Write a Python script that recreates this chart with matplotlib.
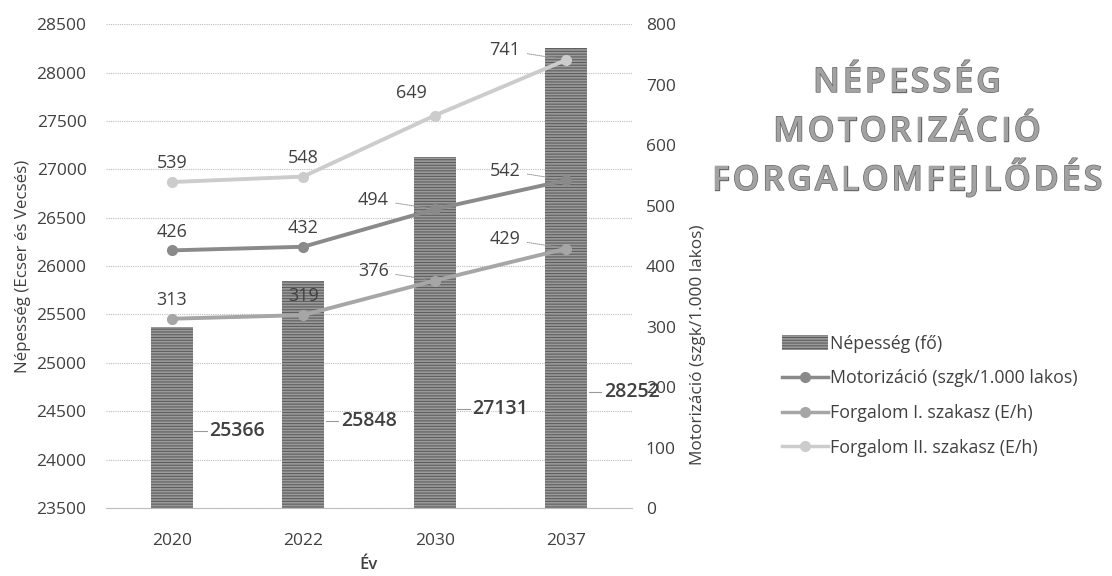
import matplotlib
matplotlib.use("Agg")
import matplotlib.pyplot as plt
import matplotlib.patheffects as pe
from matplotlib.lines import Line2D
from matplotlib.patches import Patch
from matplotlib.font_manager import FontProperties
import numpy as np

plt.rcParams['font.family'] = ['Open Sans', 'DejaVu Sans']
plt.rcParams['hatch.linewidth'] = 0.8

years = ["2020", "2022", "2030", "2037"]
nepesseg = [25366, 25848, 27131, 28252]
motorizacio = [426, 432, 494, 542]
forgalom1 = [313, 319, 376, 429]
forgalom2 = [539, 548, 649, 741]

series_names = ["Népesség (fő)", "Motorizáció (szgk/1.000 lakos)",
                "Forgalom I. szakasz (E/h)", "Forgalom II. szakasz (E/h)"]
title_lines = ["NÉPESSÉG", "MOTORIZÁCIÓ", "FORGALOMFEJLŐDÉS"]

line_colors = ["#8a8a8a", "#a6a6a6", "#cccccc"]
bar_color = "#9a9a9a"
bar_edge = "#5e5e5e"
text_color = "#404040"

W, H, DPI = 1112, 576, 100
fig = plt.figure(figsize=(W / DPI, H / DPI), dpi=DPI)
ax = fig.add_axes([0.0953, 0.118, 0.473, 0.840])
ax2 = ax.twinx()

x = np.arange(len(years))
ax.bar(x, nepesseg, width=0.32, color=bar_color, edgecolor=bar_edge,
       hatch="------", linewidth=0, zorder=2)
ax.set_ylim(23500, 28500)
ax.set_yticks(np.arange(23500, 28501, 500))
ax.set_xlim(-0.5, len(years) - 0.5)
ax.set_xticks(x)
ax.set_xticklabels(years)
ax.grid(axis="y", color="#bdbdbd", linestyle=(0, (1, 1)), linewidth=0.8, zorder=0)
ax.set_axisbelow(True)
for s in ["top", "left", "right"]:
    ax.spines[s].set_visible(False)
ax.spines["bottom"].set_color("#bdbdbd")
ax.tick_params(axis="both", length=0, labelsize=12.5, colors=text_color, pad=14)
ax.tick_params(axis="x", pad=18)
ax.set_xlabel("Év", fontsize=12, color=text_color, fontweight="semibold", labelpad=6)
ax.set_ylabel("Népesség (Ecser és Vecsés)", fontsize=12.2, color=text_color, labelpad=4)

# bar value labels (placed low, to the right of each bar, with leader line)
bar_label_frac = [0.16, 0.18, 0.205, 0.24]  # label height as axes fraction
for xi, v, fy in zip(x, nepesseg, bar_label_frac):
    ax.text(xi + 0.285, fy, str(v), transform=ax.get_xaxis_transform(),
            fontsize=14, fontweight="semibold", color=text_color,
            ha="left", va="center", zorder=5)
    ax.plot([xi + 0.17, xi + 0.265], [fy, fy], transform=ax.get_xaxis_transform(),
            color="#9a9a9a", lw=0.8, zorder=5)

ax2.set_ylim(0, 800)
ax2.set_yticks(np.arange(0, 801, 100))
for s in ["top", "left", "right", "bottom"]:
    ax2.spines[s].set_visible(False)
ax2.tick_params(axis="y", length=0, labelsize=12.5, colors=text_color, pad=10)
ax2.set_ylabel("Motorizáció (szgk/1.000 lakos)", fontsize=12.4, color=text_color,
               rotation=90)
ax2.yaxis.set_label_coords(1.11, 0.337)

for vals, col in zip([motorizacio, forgalom1, forgalom2], line_colors):
    ax2.plot(x, vals, color=col, lw=2.8, marker="o", markersize=7,
             markerfacecolor=col, markeredgecolor=col, zorder=4)
    for i, v in enumerate(vals):
        if i < 2:
            ax2.annotate(str(v), xy=(x[i], v), xytext=(0, 7), textcoords="offset points",
                         ha="center", va="bottom", fontsize=13, color=text_color)
        elif vals is forgalom2 and i == 2:
            ax2.annotate(str(v), xy=(x[i], v), xytext=(-17, 10), textcoords="offset points",
                         ha="center", va="bottom", fontsize=13, color=text_color)
        else:
            ax2.annotate(str(v), xy=(x[i], v), xytext=(-33, 7),
                         textcoords="offset points",
                         ha="right", va="center",
                         fontsize=13, color=text_color,
                         arrowprops=dict(arrowstyle="-", color="#999999",
                                         lw=0.7, linestyle=(0, (1, 1)),
                                         shrinkA=3, shrinkB=6))

# legend
handles = [Patch(facecolor=bar_color, edgecolor=bar_edge, hatch="------", linewidth=0)]
for col in line_colors:
    handles.append(Line2D([0], [0], color=col, lw=2.5, marker="o", markersize=7,
                          markerfacecolor=col, markeredgecolor=col))
fig.legend(handles, series_names, loc="upper left", bbox_to_anchor=(0.689, 0.447),
           frameon=False, fontsize=12.8, labelcolor=text_color, handlelength=2.6,
           handletextpad=0.1, labelspacing=0.95, handleheight=0.9, borderpad=0.4)

# title: letter-spaced, outlined grey capitals
title_prop = FontProperties(family=["Open Sans", "DejaVu Sans"], weight="semibold", size=24.5)
title_center_px = 907
title_baselines_px = [92, 141, 190]
tracking_px = 3.0
renderer = fig.canvas.get_renderer()
for line, base in zip(title_lines, title_baselines_px):
    widths = []
    for ch in line:
        t = fig.text(0, 0, ch, fontproperties=title_prop)
        widths.append(t.get_window_extent(renderer).width)
        t.remove()
    total = sum(widths) + tracking_px * (len(line) - 1)
    xpos = title_center_px - total / 2
    for ch, w in zip(line, widths):
        fig.text(xpos / W, 1 - base / H, ch, fontproperties=title_prop,
                 color="#a2a2a2", ha="left", va="baseline",
                 path_effects=[pe.withStroke(linewidth=1.0, foreground="#6a6a6a")])
        xpos += w + tracking_px

fig.savefig("out.png", dpi=DPI, facecolor="white")
